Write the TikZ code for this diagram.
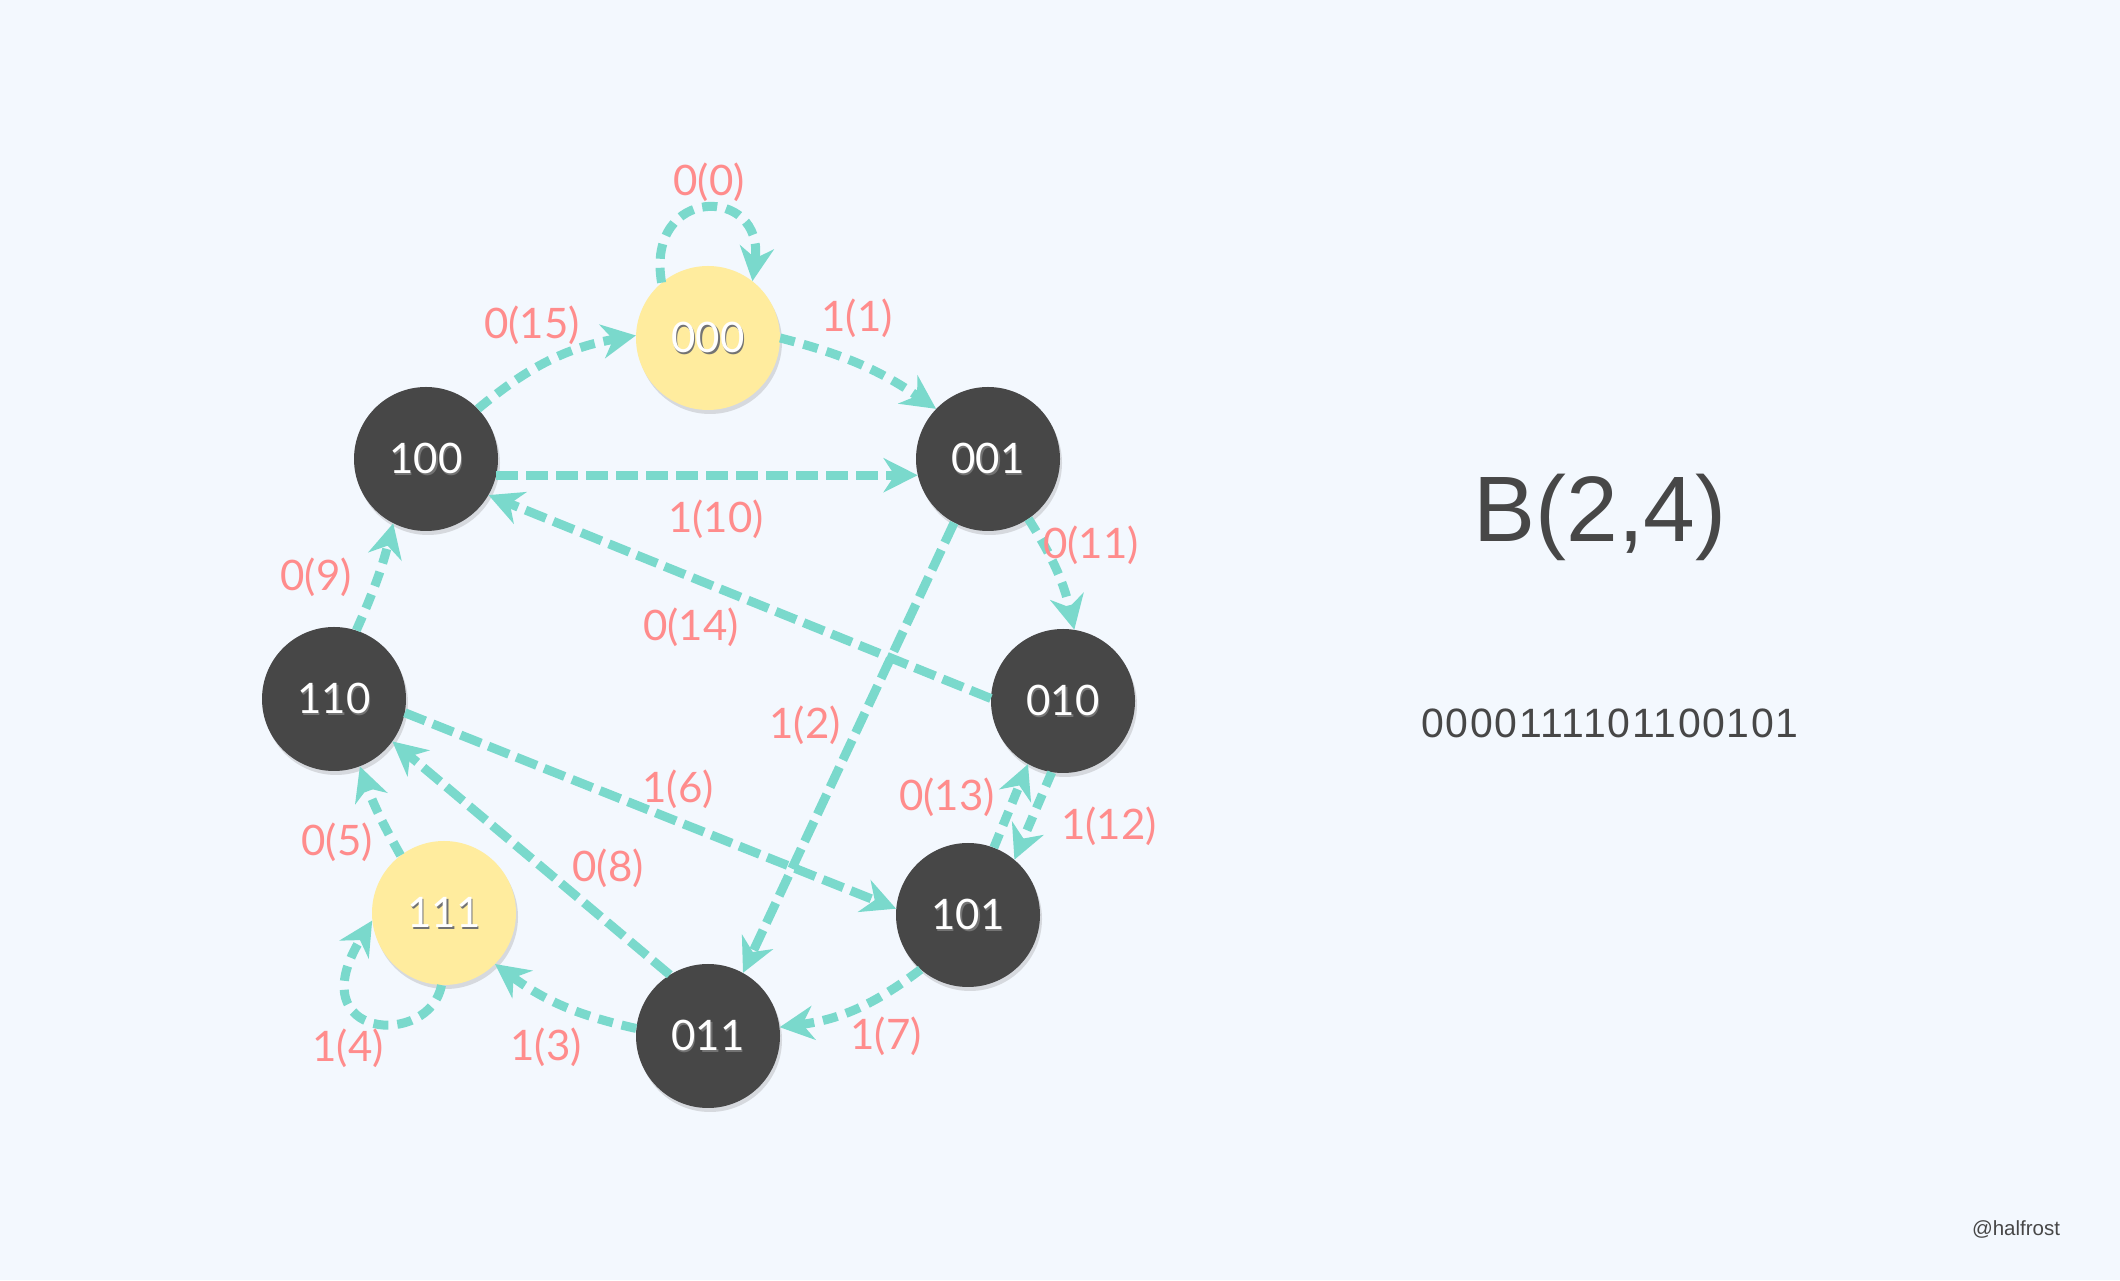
\documentclass[tikz,border=0pt]{standalone}
\usepackage{fontspec}
\setmainfont{Liberation Sans}
\newfontfamily\latofont{Lato}
\usetikzlibrary{arrows.meta,shadows}
\definecolor{bgc}{HTML}{F3F8FE}
\definecolor{nodedark}{HTML}{474747}
\definecolor{nodeyellow}{HTML}{FFEC9E}
\definecolor{tealc}{HTML}{7AD9CC}
\definecolor{pinkc}{HTML}{FF8C8C}
\definecolor{titlec}{HTML}{474747}
\newcommand\shtxt[1]{\rlap{\kern1.5pt\raisebox{-2pt}{\color{black!55}#1}}#1}
\begin{document}
\begin{tikzpicture}[x=1pt,y=1pt,
  dnode/.style={circle,minimum size=144pt,inner sep=0pt,fill=nodedark,text=white,
    font=\latofont\fontsize{42}{42}\selectfont,
    drop shadow={shadow xshift=2pt,shadow yshift=-4pt,opacity=0.25}},
  ynode/.style={dnode,fill=nodeyellow},
  edge/.style={draw=tealc,line width=9pt,dash pattern=on 22pt off 8pt,
    -{Stealth[length=34pt,width=34pt,inset=11pt]}},
  cedge/.style={edge,dash pattern=on 15pt off 9pt},
  lbl/.style={text=pinkc,font=\latofont\fontsize{42}{42}\selectfont,inner sep=0pt},
  rtxt/.style={anchor=base,text=titlec,inner sep=0pt}]
\fill[bgc] (0,0) rectangle (2120,1280);
\useasboundingbox (0,0) rectangle (2120,1280);

% nodes
\node[ynode] (n000) at (708,942) {\shtxt{000}};
\node[dnode] (n100) at (426,821) {\shtxt{100}};
\node[dnode] (n001) at (988,821) {\shtxt{001}};
\node[dnode] (n110) at (334,581) {\shtxt{110}};
\node[dnode] (n010) at (1063,579) {\shtxt{010}};
\node[ynode] (n111) at (444,367) {\shtxt{111}};
\node[dnode] (n101) at (968,365) {\shtxt{101}};
\node[dnode] (n011) at (708,244) {\shtxt{011}};

% edges
\draw[cedge] (n000.130) .. controls (645,1095) and (765,1095) .. (n000.52);
\draw[cedge] (n000.0) to[bend left=10] (n001.136);
\draw[edge] (n001.242) -- (n011.61);
\draw[cedge] (n011.174) to[bend left=12] (n111.-45);
\draw[cedge] (n111.268) .. controls (430,232) and (298,240) .. (n111.186);
\draw[cedge] (n111.127) to[bend left=5] (n110.291);
\draw[edge] (n110.-11) -- (n101.175);
\draw[cedge] (n101.229) to[bend left=15] (n011.7);
\draw[edge] (n011.122) -- (n110.-36);
\draw[cedge] (n110.72) to[bend right=5] (n100.243);
\draw[edge] (n100.-13) -- (n001.193);
\draw[cedge] (n001.-56) to[bend left=10] (n010.81);
\draw[cedge] (n010.261) -- (n101.50);
\draw[cedge] (n101.69) -- (n010.241);
\draw[edge] (n010.178) -- (n100.-30);
\draw[cedge] (n100.44) to[bend left=15] (n000.178);

% labels
\node[lbl] (l0) at (709,1098) {0(0)};
\node[lbl] (l1) at (857,962) {1(1)};
\node[lbl] (l2) at (805,555) {1(2)};
\node[lbl] (l3) at (546,233) {1(3)};
\node[lbl] (l4) at (348,232) {1(4)};
\node[lbl] (l5) at (337,438) {0(5)};
\node[lbl] (l6) at (678,491) {1(6)};
\node[lbl] (l7) at (886,244) {1(7)};
\node[lbl] (l8) at (608,412) {0(8)};
\node[lbl] (l9) at (316,703) {0(9)};
\node[lbl] (l10) at (716,761) {1(10)};
\node[lbl] (l11) at (1091,735) {0(11)};
\node[lbl] (l12) at (1109,454) {1(12)};
\node[lbl] (l13) at (947,483) {0(13)};
\node[lbl] (l14) at (691,653) {0(14)};
\node[lbl] (l15) at (532,955) {0(15)};

% right side texts
\node[rtxt,font=\fontsize{93}{93}\selectfont] (title) at (1600,738) {B(2,4)};
\node[rtxt,font=\fontsize{41}{41}\selectfont] (seq) at (1610,542) {\addfontfeature{LetterSpace=4}0000111101100101};
\node[rtxt,font=\fontsize{20.5}{20.5}\selectfont] (sig) at (2016,45) {@halfrost};
\end{tikzpicture}
\end{document}
